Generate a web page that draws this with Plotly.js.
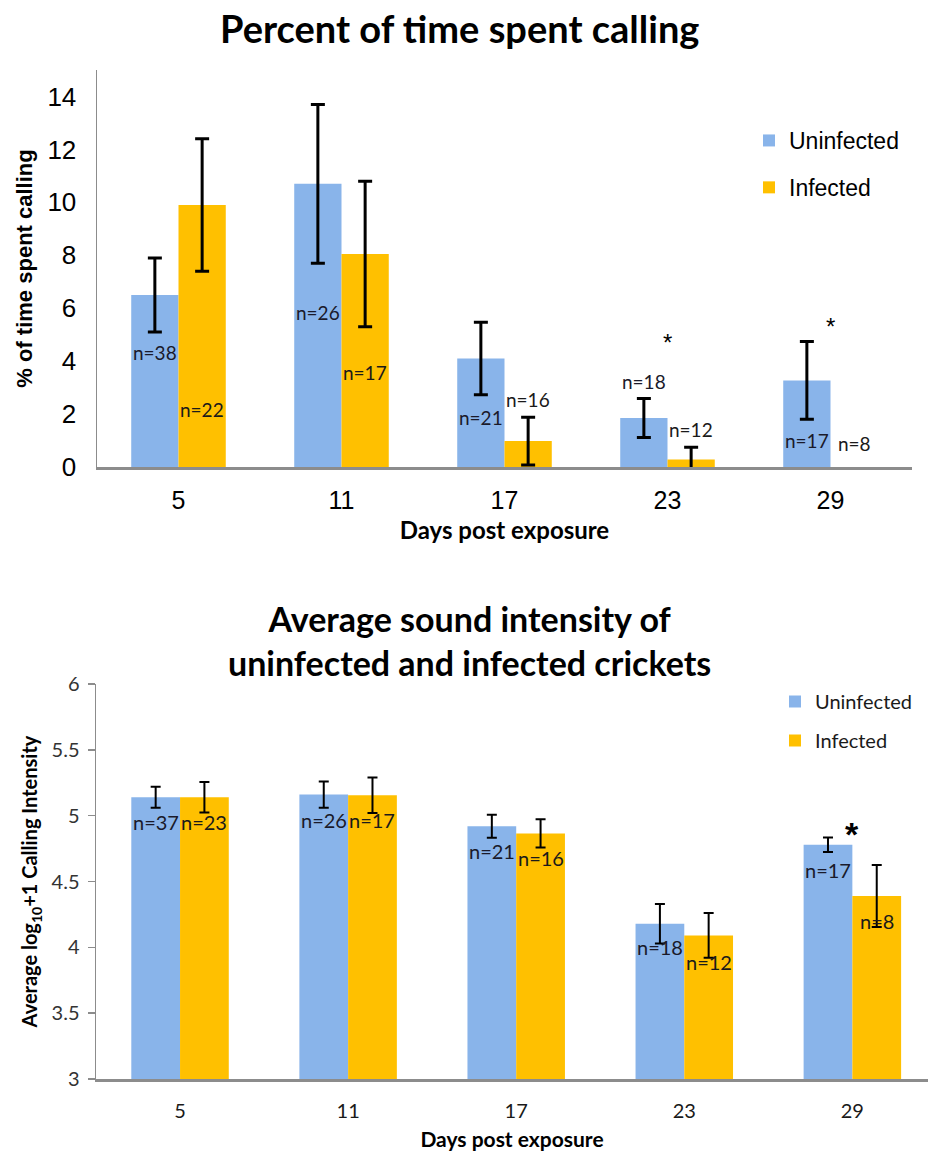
<!DOCTYPE html>
<html>
<head>
<meta charset="utf-8">
<script src="https://cdn.plot.ly/plotly-3.0.1.min.js"></script>
<style>
  html, body { margin: 0; padding: 0; background: #fff; }
  #chart { width: 928px; height: 1154px; }
</style>
</head>
<body>
<div id="chart"></div>
<script>
// Days post exposure (category axis for both panels)
const days = ['5', '11', '17', '23', '29'];

// Panel 1: percent of time spent calling (mean and error)
const pctUninfected    = [6.5, 10.7, 4.1, 1.85, 3.27];
const pctUninfectedErr = [1.4, 3.0, 1.37, 0.74, 1.47];
const pctInfected      = [9.9, 8.05, 0.98, 0.28, 0];
const pctInfectedErr   = [2.5, 2.75, 0.9, 0.47, NaN];   // day 29: no calling, no error bar
const pctNUninfected   = [38, 26, 21, 18, 17];
const pctNInfected     = [22, 17, 16, 12, 8];

// Panel 2: average log10+1 calling intensity (mean and error)
const intUninfected    = [5.14, 5.16, 4.92, 4.18, 4.78];
const intUninfectedErr = [0.08, 0.10, 0.087, 0.15, 0.055];
const intInfected      = [5.14, 5.155, 4.865, 4.09, 4.39];
const intInfectedErr   = [0.115, 0.135, 0.107, 0.17, 0.235];
const intNUninfected   = [37, 26, 21, 18, 17];
const intNInfected     = [23, 17, 16, 12, 8];

// ---- styling ----
const BLUE = '#89B4EA';
const GOLD = '#FFC000';
const AXIS = '#8c8c8c';
const ARIAL = 'Liberation Sans, Arial, sans-serif';
const HUMAN = 'Lato, Open Sans, sans-serif';
const W = 928, H = 1154;
const px = v => v / W;          // horizontal pixel -> paper
const py = v => 1 - v / H;      // vertical pixel -> paper
const BARGAP = 0.42;
const half = (1 - BARGAP) / 4;  // offset of each bar centre from its category

// Where the n= labels sit (data units on each panel's y axis)
const pctLabelY = { u: [4.32, 5.83, 1.86, 3.23, 1.0], i: [2.18, 3.56, 2.54, 1.42, 0.88] };
const intLabelY = { u: [4.95, 4.97, 4.73, 4.0, 4.59], i: [4.95, 4.97, 4.68, 3.89, 4.2] };

function barTrace(name, y, err, color, xa, ya, legend, group, thick, capw) {
  return {
    type: 'bar', name, x: days, y,
    xaxis: xa, yaxis: ya, legend, legendgroup: group,
    marker: { color, line: { width: 0 } },
    error_y: { type: 'data', array: err, visible: true, color: '#000', thickness: thick, width: capw },
    hoverinfo: 'x+y+name'
  };
}

const data = [
  barTrace('Uninfected', pctUninfected, pctUninfectedErr, BLUE, 'x', 'y', 'legend', 'a', 3, 7),
  barTrace('Infected', pctInfected, pctInfectedErr, GOLD, 'x', 'y', 'legend', 'b', 3, 7),
  barTrace('Uninfected', intUninfected, intUninfectedErr, BLUE, 'x2', 'y2', 'legend2', 'c', 2, 5),
  barTrace('Infected', intInfected, intInfectedErr, GOLD, 'x2', 'y2', 'legend2', 'd', 2, 5)
];

// n= sample-size labels on the bars
const annotations = [];
function nLabels(nu, ni, ly, xref, yref, size) {
  days.forEach((d, k) => {
    annotations.push({ x: k - half, y: ly.u[k], xref, yref, text: 'n=' + nu[k], showarrow: false,
      font: { family: HUMAN, size, color: '#1a1a2a' } });
    annotations.push({ x: k + half, y: ly.i[k], xref, yref, text: 'n=' + ni[k], showarrow: false,
      font: { family: HUMAN, size, color: '#1a1a1a' } });
  });
}
nLabels(pctNUninfected, pctNInfected, pctLabelY, 'x', 'y', 19);
nLabels(intNUninfected, intNInfected, intLabelY, 'x2', 'y2', 20);

// significance markers
annotations.push({ x: 3, y: 4.7, xref: 'x', yref: 'y', text: '*', showarrow: false,
  font: { family: ARIAL, size: 24, color: '#000' } });
annotations.push({ x: 4, y: 5.3, xref: 'x', yref: 'y', text: '*', showarrow: false,
  font: { family: ARIAL, size: 24, color: '#000' } });
annotations.push({ x: 4, y: 4.86, xref: 'x2', yref: 'y2', text: '<b>*</b>', showarrow: false,
  font: { family: ARIAL, size: 34, color: '#000' } });

// panel titles
annotations.push({ x: px(459), y: py(28), xref: 'paper', yref: 'paper', xanchor: 'center', yanchor: 'middle',
  showarrow: false, text: '<b>Percent of time spent calling</b>',
  font: { family: HUMAN, size: 38, color: '#000' } });
annotations.push({ x: px(469), y: py(640), xref: 'paper', yref: 'paper', xanchor: 'center', yanchor: 'middle',
  showarrow: false, text: '<b>Average sound intensity of<br>uninfected and infected crickets</b>',
  font: { family: HUMAN, size: 34, color: '#000' }, align: 'center' });

const layout = {
  width: W, height: H,
  margin: { l: 0, r: 0, t: 0, b: 0 },
  paper_bgcolor: '#fff', plot_bgcolor: '#fff',
  showlegend: true,
  barmode: 'group', bargap: BARGAP, bargroupgap: 0,
  xaxis: {
    type: 'category', domain: [px(97), px(912)], anchor: 'y', range: [-0.5, 4.5],
    showline: true, linecolor: AXIS, linewidth: 2.5, ticks: '', showgrid: false, zeroline: false,
    tickfont: { family: ARIAL, size: 25, color: '#000' }, ticklabelstandoff: 9,
    title: { text: '<b>Days post exposure</b>', font: { family: HUMAN, size: 24, color: '#000' }, standoff: 10 }
  },
  yaxis: {
    domain: [py(467), py(70)], anchor: 'x', range: [0, 15], dtick: 2, tick0: 0,
    showline: true, linecolor: AXIS, linewidth: 1.5, ticks: '', showgrid: false, zeroline: false,
    tickfont: { family: ARIAL, size: 26, color: '#000' }, ticklabelstandoff: 14,
    title: { text: '<b>% of time spent calling</b>', font: { family: ARIAL, size: 22, color: '#000' }, standoff: 8 }
  },
  xaxis2: {
    type: 'category', domain: [px(96), 1], anchor: 'y2', range: [-0.5, 4.45],
    showline: true, linecolor: AXIS, linewidth: 2.5, ticks: '', showgrid: false, zeroline: false,
    tickfont: { family: HUMAN, size: 20, color: '#1a1a1a' }, ticklabelstandoff: 12,
    title: { text: '<b>Days post exposure</b>', font: { family: HUMAN, size: 21, color: '#000' }, standoff: 12 }
  },
  yaxis2: {
    domain: [py(1079), py(684)], anchor: 'x2', range: [3, 6], dtick: 0.5, tick0: 3,
    showline: true, linecolor: AXIS, linewidth: 1.5, ticks: 'outside', ticklen: 7, tickcolor: AXIS, tickwidth: 1.5,
    showgrid: false, zeroline: false,
    tickfont: { family: HUMAN, size: 20, color: '#333' }, ticklabelstandoff: 4,
    title: { text: '<b>Average log<sub>10</sub>+1 Calling Intensity</b>', font: { family: HUMAN, size: 20, color: '#000' }, standoff: 8 }
  },
  legend: {
    x: px(749), y: py(119), xanchor: 'left', yanchor: 'top',
    bgcolor: 'rgba(0,0,0,0)', font: { family: ARIAL, size: 23, color: '#000' },
    traceorder: 'grouped', tracegroupgap: 14, itemclick: false
  },
  legend2: {
    x: px(775), y: py(682), xanchor: 'left', yanchor: 'top',
    bgcolor: 'rgba(0,0,0,0)', font: { family: HUMAN, size: 20, color: '#1a1a1a' },
    traceorder: 'grouped', tracegroupgap: 10, itemclick: false
  },
  annotations
};

Plotly.newPlot('chart', data, layout, { staticPlot: true, displayModeBar: false });
</script>
</body>
</html>
